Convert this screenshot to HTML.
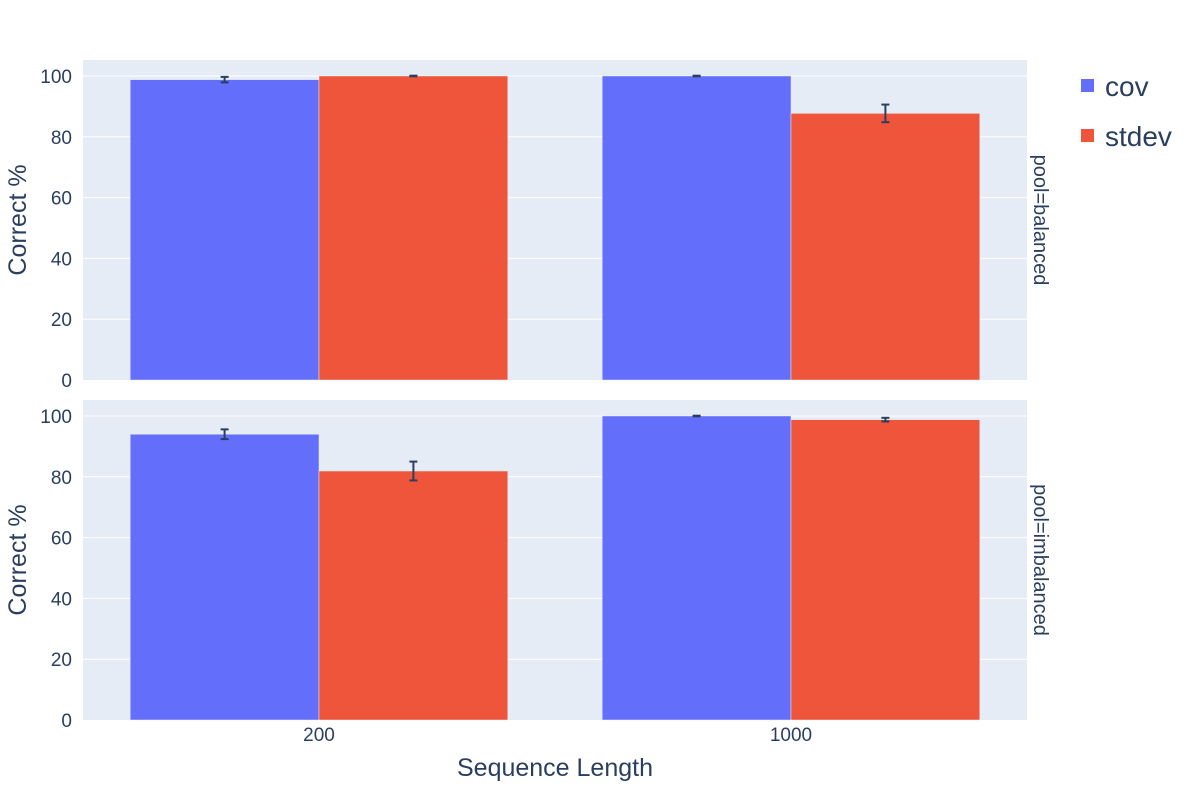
<!DOCTYPE html>
<html><head><meta charset="utf-8"><style>
body{margin:0;background:#fff;font-family:"Liberation Sans",sans-serif;}
svg text{font-family:"Liberation Sans",sans-serif;fill:#2a3f5f;}
</style></head><body>
<svg id="chart" width="1200" height="800" xmlns="http://www.w3.org/2000/svg"></svg>
<script>
const categories = ["200", "1000"];
const series = ["cov", "stdev"];
const colors = ["#636efa", "#EF553B"];
const facets = ["pool=balanced", "pool=imbalanced"];
const balancedValues = [[98.8, 100], [100, 87.7]];
const balancedErrors = [[0.9, 0.1], [0.1, 2.9]];
const imbalancedValues = [[94.0, 100], [81.9, 98.8]];
const imbalancedErrors = [[1.6, 0.1], [3.1, 0.6]];
const yTicks = [0, 20, 40, 60, 80, 100];

const NS = "http://www.w3.org/2000/svg";
const svg = document.getElementById("chart");
function mk(tag, attrs, parent) {
  const e = document.createElementNS(NS, tag);
  for (const k in attrs) e.setAttribute(k, attrs[k]);
  (parent || svg).appendChild(e);
  return e;
}
const X0 = 83, X1 = 1027;
const catW = (X1 - X0) / categories.length;
const groupW = catW * 0.8, barW = groupW / series.length;
const panels = [{top: 60, bottom: 380, vals: balancedValues, errs: balancedErrors},
                {top: 400, bottom: 720, vals: imbalancedValues, errs: imbalancedErrors}];
const yMax = 105.26;

panels.forEach((p, pi) => {
  const y = v => p.bottom - v / yMax * (p.bottom - p.top);
  const bg = mk("rect", {x: X0, y: p.top, width: X1 - X0, height: p.bottom - p.top, fill: "#E5ECF6"});
  
  
  yTicks.forEach(t => {
    if (t > 0) {
      const g = mk("line", {x1: X0, x2: X1, y1: y(t), y2: y(t), stroke: "#fff", "stroke-width": 1});
      
      
    }
    const tl = mk("text", {x: 72, y: y(t) + 7, "text-anchor": "end", "font-size": 19});
    tl.textContent = t;
    
    
  });
  series.forEach((s, si) => {
    categories.forEach((c, ci) => {
      const v = p.vals[si][ci], e = p.errs[si][ci];
      const bx = X0 + ci * catW + (catW - groupW) / 2 + si * barW;
      const r = mk("rect", {x: bx, y: y(v), width: barW, height: p.bottom - y(v), fill: colors[si], stroke: "#E5ECF6", "stroke-width": 0.5});
      
      
      const cx = bx + barW / 2;
      const eg = mk("g", {stroke: "#2a3f5f", "stroke-width": 2});
      
      
      mk("line", {x1: cx, x2: cx, y1: y(v + e), y2: y(v - e)}, eg);
      mk("line", {x1: cx - 4, x2: cx + 4, y1: y(v + e), y2: y(v + e)}, eg);
      mk("line", {x1: cx - 4, x2: cx + 4, y1: y(v - e), y2: y(v - e)}, eg);
    });
  });
  const mid = (p.top + p.bottom) / 2;
  const yt = mk("text", {x: 26, y: mid, "text-anchor": "middle", "font-size": 25, transform: `rotate(-90 26 ${mid})`});
  yt.textContent = "Correct %";
  
  
  const fl = mk("text", {x: 1034, y: mid, "text-anchor": "middle", "font-size": 20, transform: `rotate(90 1034 ${mid})`});
  fl.textContent = facets[pi];
  
  
});
categories.forEach((c, ci) => {
  const t = mk("text", {x: X0 + (ci + 0.5) * catW, y: 741, "text-anchor": "middle", "font-size": 19});
  t.textContent = c;
  
  
});
const xt = mk("text", {x: 555, y: 776, "text-anchor": "middle", "font-size": 25});
xt.textContent = "Sequence Length";


series.forEach((s, si) => {
  const ly = 86 + si * 50;
  const g = mk("g", {});
  
  
  mk("rect", {x: 1081, y: ly - 7, width: 13, height: 13, fill: colors[si]}, g);
  const t = mk("text", {x: 1105, y: ly + 10, "font-size": 28}, g);
  t.textContent = s;
});
</script>
</body></html>
